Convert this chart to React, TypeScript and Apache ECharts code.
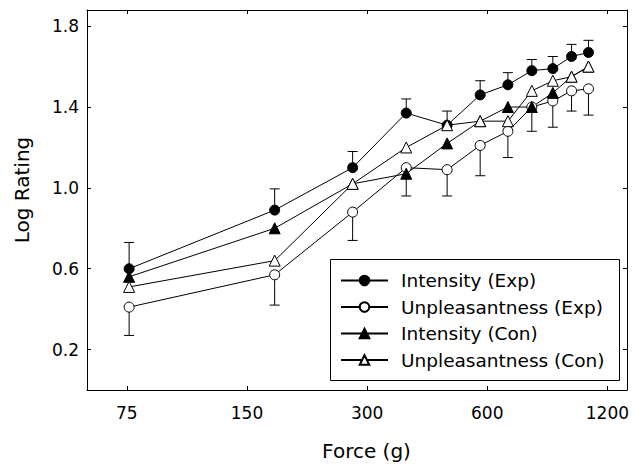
import React, { useEffect, useRef } from 'react';
import * as echarts from 'echarts';

// Force levels (g) and axis ticks
const forces = [76, 176, 276, 376, 476, 576, 676, 776, 876, 976, 1076];
const xTickForces = [75, 150, 300, 600, 1200];
const yTicks = [0.2, 0.6, 1.0, 1.4, 1.8];
const xMinForce = 59.6;
const xMaxForce = 1344;
const yMin = 0;
const yMax = 1.88;

// Series values (log rating)
const intensityExp = [0.60, 0.89, 1.10, 1.37, 1.31, 1.46, 1.51, 1.58, 1.59, 1.65, 1.67];
const intensityExpErr = [0.13, 0.105, 0.08, 0.07, 0.07, 0.07, 0.06, 0.055, 0.06, 0.06, 0.06];
const unpleasantExp = [0.41, 0.57, 0.88, 1.10, 1.09, 1.21, 1.28, 1.40, 1.43, 1.48, 1.49];
const unpleasantExpErr = [0.14, 0.15, 0.14, 0.14, 0.13, 0.15, 0.13, 0.12, 0.13, 0.10, 0.13];
const intensityCon = [0.56, 0.80, 1.02, 1.07, 1.22, 1.33, 1.40, 1.40, 1.47, 1.55, 1.60];
const unpleasantCon = [0.51, 0.64, 1.02, 1.20, 1.31, 1.33, 1.33, 1.48, 1.53, 1.55, 1.60];

const seriesNames = [
  'Intensity (Exp)',
  'Unpleasantness (Exp)',
  'Intensity (Con)',
  'Unpleasantness (Con)',
];

const FONT = '"DejaVu Sans", "Liberation Sans", Arial, sans-serif';
const toX = (f: number) => Math.log2(f / 75);

export default function App() {
  const ref = useRef<HTMLDivElement>(null);

  useEffect(() => {
    document.body.style.margin = '0';
    if (!ref.current) return;
    const chart = echarts.init(ref.current, null, { renderer: 'svg' });

    const pts = (vals: number[]) => forces.map((f, i) => [toX(f), vals[i]]);
    const errUp = forces.map((f, i) => [toX(f), intensityExp[i], intensityExp[i] + intensityExpErr[i], intensityExp[i] + intensityExpErr[i]]);
    const errDown = forces.map((f, i) => [toX(f), unpleasantExp[i] - unpleasantExpErr[i], unpleasantExp[i], unpleasantExp[i] - unpleasantExpErr[i]]);

    const errorSeries = (data: number[][]) => ({
      type: 'custom',
      silent: true,
      z: 1,
      encode: { x: 0, y: [1, 2] },
      renderItem: (params: any, api: any) => {
        const x = api.value(0);
        const p1 = api.coord([x, api.value(1)]);
        const p2 = api.coord([x, api.value(2)]);
        const pc = api.coord([x, api.value(3)]);
        return {
          type: 'group',
          children: [
            { type: 'line', shape: { x1: p1[0], y1: p1[1], x2: p2[0], y2: p2[1] }, style: { stroke: '#000', lineWidth: 1 } },
            { type: 'line', shape: { x1: pc[0] - 5, y1: pc[1], x2: pc[0] + 5, y2: pc[1] }, style: { stroke: '#000', lineWidth: 1 } },
          ],
        };
      },
      data,
    });

    const lineSeries = (name: string, vals: number[], symbol: string, size: number, fill: string) => ({
      type: 'line',
      name,
      data: pts(vals),
      symbol,
      symbolSize: size,
      showAllSymbol: true,
      lineStyle: { color: '#000', width: 1 },
      itemStyle: { color: fill, borderColor: '#000', borderWidth: 1 },
      z: 2,
    });

    const xCommon = {
      type: 'value',
      min: toX(xMinForce),
      max: toX(xMaxForce),
      splitLine: { show: false },
      axisLine: { show: true, onZero: false, lineStyle: { color: '#000', width: 1 } },
      axisTick: { show: true, inside: true, length: 4, lineStyle: { color: '#000' }, customValues: xTickForces.map(toX) },
    };
    const yCommon = {
      type: 'value',
      min: yMin,
      max: yMax,
      splitLine: { show: false },
      axisLine: { show: true, onZero: false, lineStyle: { color: '#000', width: 1 } },
      axisTick: { show: true, inside: true, length: 4, lineStyle: { color: '#000' }, customValues: yTicks },
    };

    chart.setOption({
      animation: false,
      backgroundColor: '#fff',
      textStyle: { fontFamily: FONT },
      grid: { left: 87, top: 10, width: 541, height: 380 },
      xAxis: [
        {
          ...xCommon,
          position: 'bottom',
          axisLabel: {
            show: true,
            margin: 14,
            color: '#000',
            fontSize: 17,
            fontFamily: FONT,
            customValues: xTickForces.map(toX),
            formatter: (v: number) => String(Math.round(75 * Math.pow(2, v))),
          },
        },
        { ...xCommon, position: 'top', axisLabel: { show: false } },
      ],
      yAxis: [
        {
          ...yCommon,
          position: 'left',
          axisLabel: {
            show: true,
            margin: 8,
            color: '#000',
            fontSize: 17,
            fontFamily: FONT,
            customValues: yTicks,
            formatter: (v: number) => v.toFixed(1),
          },
        },
        { ...yCommon, position: 'right', axisLabel: { show: false } },
      ],
      legend: {
        data: seriesNames,
        orient: 'vertical',
        left: 340,
        top: 271,
        padding: 0,
        itemWidth: 47,
        itemHeight: 12,
        itemGap: 7.5,
        textStyle: { color: '#000', fontSize: 18.5, fontFamily: FONT, padding: [0, 0, 0, 8] },
      },
      graphic: [
        {
          type: 'rect',
          shape: { x: 330.5, y: 259.5, width: 289, height: 121 },
          style: { fill: '#fff', stroke: '#000', lineWidth: 1 },
          z: 0,
        },
        {
          type: 'text',
          x: 366.5,
          y: 451,
          style: { text: 'Force (g)', font: `20px ${FONT}`, fill: '#000', align: 'center', verticalAlign: 'middle' },
        },
        {
          type: 'text',
          x: 22,
          y: 190,
          rotation: Math.PI / 2,
          style: { text: 'Log Rating', font: `20px ${FONT}`, fill: '#000', align: 'center', verticalAlign: 'middle' },
        },
      ],
      series: [
        errorSeries(errUp),
        errorSeries(errDown),
        lineSeries(seriesNames[0], intensityExp, 'circle', 10, '#000'),
        lineSeries(seriesNames[1], unpleasantExp, 'circle', 10, '#fff'),
        lineSeries(seriesNames[2], intensityCon, 'triangle', 11, '#000'),
        lineSeries(seriesNames[3], unpleasantCon, 'triangle', 11, '#fff'),
      ],
    });

    return () => chart.dispose();
  }, []);

  return <div ref={ref} style={{ width: 632, height: 465 }} />;
}
